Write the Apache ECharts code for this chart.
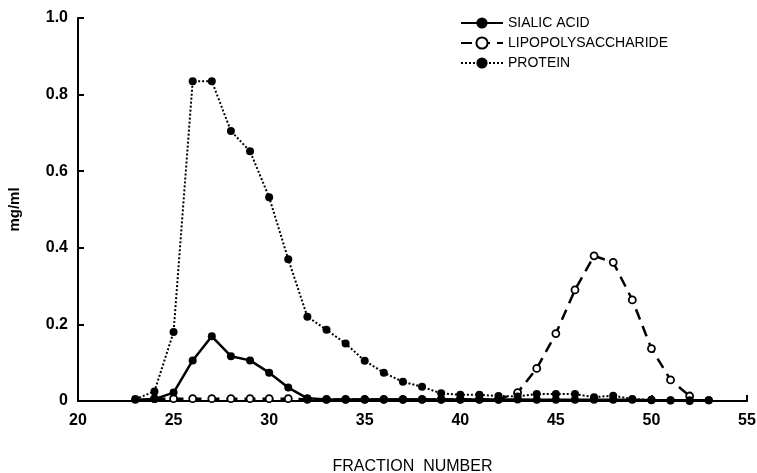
<!DOCTYPE html>
<html><head><meta charset="utf-8">
<script src="https://cdn.jsdelivr.net/npm/echarts@6/dist/echarts.min.js"></script>
<style>html,body{margin:0;padding:0;background:#fff}#c{width:757px;height:473px}</style>
</head><body><div id="c"></div>
<script>
const fractions = [23,24,25,26,27,28,29,30,31,32,33,34,35,36,37,38,39,40,41,42,43,44,45,46,47,48,49,50,51,52,53];
const sialicAcid = [0.003,0.005,0.022,0.106,0.169,0.117,0.106,0.074,0.035,0.007,0.004,0.004,0.004,0.004,0.004,0.004,0.004,0.004,0.004,0.004,0.004,0.003,0.003,0.003,0.003,0.003,0.003,0.002,0.002,0.002,0.002];
const lpsFractions = [24,25,26,27,28,29,30,31,32,33,34,35,36,37,38,39,40,41,42,43,44,45,46,47,48,49,50,51,52];
const lipopolysaccharide = [0.006,0.006,0.006,0.006,0.006,0.006,0.006,0.006,0.004,0.004,0.004,0.004,0.004,0.004,0.004,0.004,0.004,0.004,0.004,0.022,0.085,0.176,0.29,0.379,0.362,0.264,0.137,0.055,0.013];
const protein = [0.005,0.025,0.18,0.835,0.835,0.705,0.652,0.532,0.37,0.22,0.186,0.15,0.105,0.074,0.05,0.037,0.02,0.016,0.016,0.013,0.012,0.018,0.018,0.018,0.01,0.014,0.005,0.003,0.001,0.0,0.002];
const seriesNames = ['SIALIC ACID','LIPOPOLYSACCHARIDE','PROTEIN'];

const font = 'Liberation Sans';
const chart = echarts.init(document.getElementById('c'));
chart.setOption({
  animation:false,
  backgroundColor:'#fff',
  grid:{left:78,right:10,top:18,bottom:72,outerBoundsMode:'none',containLabel:false},
  legend:{
    orient:'vertical', left:455, top:11, itemGap:6, itemWidth:42, itemHeight:14,
    textStyle:{fontFamily:font, fontSize:14, color:'#000'},
    data:seriesNames
  },
  xAxis:{
    type:'value', min:20, max:55, interval:5,
    name:'FRACTION  NUMBER', nameLocation:'middle', nameGap:58,
    nameTextStyle:{fontFamily:font, fontSize:16, color:'#000'},
    axisLine:{lineStyle:{color:'#000', width:2}},
    axisTick:{inside:true, length:6, lineStyle:{color:'#000', width:2}},
    axisLabel:{fontFamily:font, fontSize:16, color:'#000', margin:12, fontWeight:'bold'},
    splitLine:{show:false}
  },
  yAxis:{
    type:'value', min:0, max:1, interval:0.2,
    name:'mg/ml', nameLocation:'middle', nameGap:56,
    nameTextStyle:{fontFamily:font, fontSize:15, color:'#000', fontWeight:'bold'},
    axisLine:{show:true, lineStyle:{color:'#000', width:2}},
    axisTick:{show:true, inside:true, length:6, lineStyle:{color:'#000', width:2}},
    axisLabel:{fontFamily:font, fontSize:16, color:'#000', margin:10, fontWeight:'bold',
      formatter:v=> v===0 ? '0' : v.toFixed(1)},
    splitLine:{show:false}
  },
  series:[
    {name:seriesNames[0], type:'line', data:fractions.map((f,i)=>[f,sialicAcid[i]]),
     symbol:'circle', symbolSize:8, itemStyle:{color:'#000'},
     lineStyle:{color:'#000', width:2.5, type:'solid'}, z:3},
    {name:seriesNames[1], type:'line', data:lpsFractions.map((f,i)=>[f,lipopolysaccharide[i]]),
     symbol:'circle', symbolSize:7, itemStyle:{color:'#fff', borderColor:'#000', borderWidth:1.8},
     lineStyle:{color:'#000', width:2.5, type:[11,7]}, z:2},
    {name:seriesNames[2], type:'line', data:fractions.map((f,i)=>[f,protein[i]]),
     symbol:'circle', symbolSize:8, itemStyle:{color:'#000'},
     lineStyle:{color:'#000', width:2, type:[2,2]}, z:4}
  ]
});
</script></body></html>
